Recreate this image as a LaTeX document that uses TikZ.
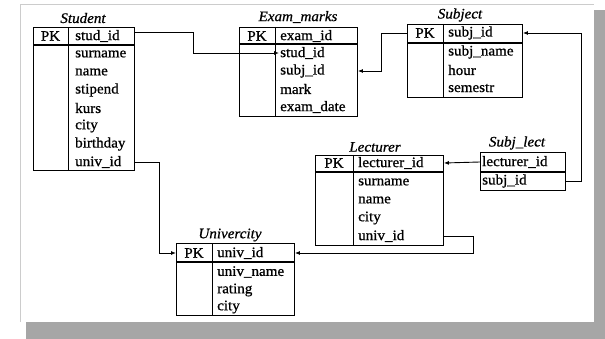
\documentclass[tikz,border=0pt]{standalone}
\usepackage{fontspec}
\setmainfont[FakeStretch=1.04,FakeBold=0.8]{Liberation Serif}
\usetikzlibrary{arrows.meta}
\begin{document}
\begin{tikzpicture}[x=1pt,y=-1pt,
  tbl/.style={draw,line width=0.9pt,inner sep=0pt},
  hdr/.style={line width=1.4pt},
  col/.style={line width=0.9pt},
  fld/.style={anchor=west,font=\fontsize{14.5}{15}\selectfont,inner sep=1pt},
  pk/.style={font=\fontsize{14.5}{15}\selectfont,inner sep=1pt},
  ttl/.style={font=\fontsize{14.5}{15}\selectfont\itshape,inner sep=1pt},
  link/.style={line width=0.9pt,-{Latex[length=5pt,width=4pt]}},
  line/.style={line width=0.9pt}]
\useasboundingbox (0,0) rectangle (605,339);
% paper and shadow
\fill[white] (0,0) rectangle (605,339);
\fill[gray!70] (26,10) rectangle (605,339);
\fill[white] (20,4) rectangle (594,322);
\draw[gray!40,line width=0.6pt] (20,322) -- (20,4) -- (594,4);
% ---------- Student ----------
\node[tbl,minimum width=101pt,minimum height=143pt,anchor=north west] (student) at (33,27) {};
\node[ttl] (tstudent) at (83,18) {Student};
\draw[hdr] (33,45) -- (134,45);
\draw[col] (68,27) -- (68,170);
\node[pk] (spk) at (50.5,36) {PK};
\node[fld] (s1) at (74,36) {stud\_id};
\node[fld] (s2) at (74,54) {surname};
\node[fld] (s3) at (74,72) {name};
\node[fld] (s4) at (74,90) {stipend};
\node[fld] (s5) at (74,108) {kurs};
\node[fld] (s6) at (74,126) {city};
\node[fld] (s7) at (74,144) {birthday};
\node[fld] (s8) at (74,162) {univ\_id};
% ---------- Exam_marks ----------
\node[tbl,minimum width=118pt,minimum height=89pt,anchor=north west] (exam) at (239,27) {};
\node[ttl] (texam) at (298,17) {Exam\_marks};
\draw[hdr] (239,44) -- (357,44);
\draw[col] (275,27) -- (275,116);
\node[pk] (epk) at (257,36) {PK};
\node[fld] (e1) at (279,36) {exam\_id};
\node[fld] (e2) at (279,53) {stud\_id};
\node[fld] (e3) at (279,71) {subj\_id};
\node[fld] (e4) at (279,89) {mark};
\node[fld] (e5) at (279,107) {exam\_date};
% ---------- Subject ----------
\node[tbl,minimum width=115pt,minimum height=73pt,anchor=north west] (subject) at (407,24) {};
\node[ttl] (tsubject) at (460,15) {Subject};
\draw[hdr] (407,43) -- (522,43);
\draw[col] (443,24) -- (443,97);
\node[pk] (sbpk) at (425,33) {PK};
\node[fld] (b1) at (447,33) {subj\_id};
\node[fld] (b2) at (447,52) {subj\_name};
\node[fld] (b3) at (447,70) {hour};
\node[fld] (b4) at (447,88) {semestr};
% ---------- Lecturer ----------
\node[tbl,minimum width=128pt,minimum height=90pt,anchor=north west] (lecturer) at (315,155) {};
\node[ttl] (tlecturer) at (375,147) {Lecturer};
\draw[hdr] (315,172) -- (443,172);
\draw[col] (353,155) -- (353,245);
\node[pk] (lpk) at (334,163) {PK};
\node[fld] (l1) at (357,163) {lecturer\_id};
\node[fld] (l2) at (357,182) {surname};
\node[fld] (l3) at (357,200) {name};
\node[fld] (l4) at (357,218) {city};
\node[fld] (l5) at (357,236) {univ\_id};
% ---------- Subj_lect ----------
\node[tbl,minimum width=85pt,minimum height=38pt,anchor=north west] (subjlect) at (480,152) {};
\node[ttl] (tsubjlect) at (517,143) {Subj\_lect};
\draw[hdr] (480,172) -- (565,172);
\node[fld] (j1) at (481,162) {lecturer\_id};
\node[fld] (j2) at (481,181) {subj\_id};
% ---------- Univercity ----------
\node[tbl,minimum width=118pt,minimum height=72pt,anchor=north west] (univ) at (176,243) {};
\node[ttl] (tuniv) at (230,235) {Univercity};
\draw[hdr] (176,262) -- (294,262);
\draw[col] (212,243) -- (212,315);
\node[pk] (upk) at (194,253) {PK};
\node[fld] (u1) at (216,253) {univ\_id};
\node[fld] (u2) at (216,272) {univ\_name};
\node[fld] (u3) at (216,290) {rating};
\node[fld] (u4) at (216,307) {city};
% ---------- connectors ----------
\coordinate (c1a) at (193,32);
\coordinate (c1b) at (193,53);
\draw[link] (student.east |- c1a) -- (c1a) -- (c1b) -- (e2.west);
\coordinate (c2a) at (381,33);
\coordinate (c2b) at (381,71);
\draw[link] (subject.west |- b1) -- (c2a) -- (c2b) -- (exam.east |- e3);
\coordinate (c3a) at (581,181);
\coordinate (c3b) at (581,33);
\draw[link] (subjlect.east |- j2) -- (c3a) -- (c3b) -- (subject.east |- b1);
\draw[link] (subjlect.west |- j1) -- (lecturer.east |- l1);
\coordinate (c4a) at (473,236);
\coordinate (c4b) at (473,253);
\draw[link] (lecturer.east |- l5) -- (c4a) -- (c4b) -- (univ.east |- u1);
\coordinate (c5a) at (159,162);
\coordinate (c5b) at (159,253);
\draw[link] (student.east |- s8) -- (c5a) -- (c5b) -- (univ.west |- u1);
\end{tikzpicture}
\end{document}
